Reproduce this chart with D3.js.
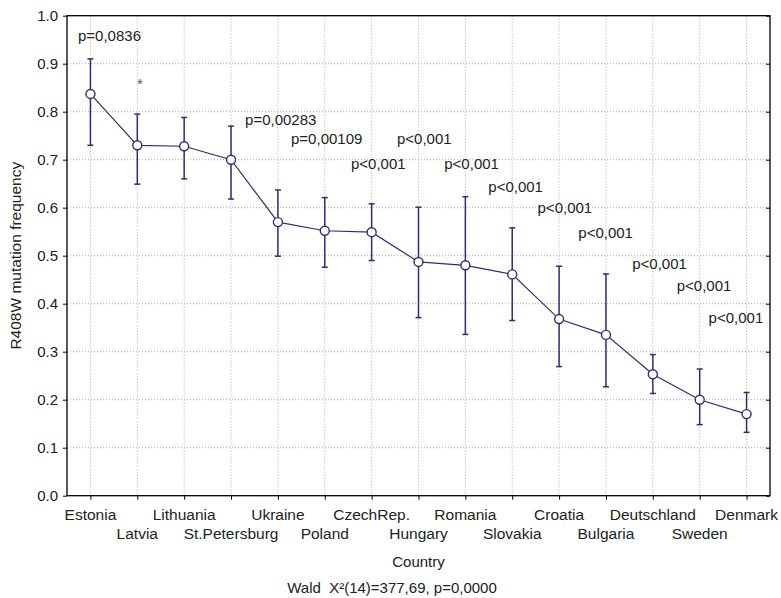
<!DOCTYPE html>
<html>
<head>
<meta charset="utf-8">
<script src="https://cdn.jsdelivr.net/npm/d3@7"></script>
<style>
  html, body { margin: 0; padding: 0; background: #fff; }
  svg { display: block; font-family: "Liberation Sans", Arial, sans-serif; }
</style>
</head>
<body>
<svg id="chart" width="781" height="598"></svg>
<script>
// ---- data ----
const categories = ["Estonia","Latvia","Lithuania","St.Petersburg","Ukraine","Poland","CzechRep.","Hungary","Romania","Slovakia","Croatia","Bulgaria","Deutschland","Sweden","Denmark"];
const means = [0.837, 0.730, 0.728, 0.700, 0.570, 0.552, 0.549, 0.487, 0.480, 0.461, 0.368, 0.335, 0.253, 0.200, 0.170];
const upper = [0.910, 0.795, 0.788, 0.770, 0.637, 0.621, 0.608, 0.601, 0.623, 0.558, 0.478, 0.462, 0.294, 0.264, 0.215];
const lower = [0.730, 0.649, 0.660, 0.618, 0.499, 0.476, 0.490, 0.371, 0.336, 0.365, 0.269, 0.227, 0.213, 0.148, 0.132];
const yTicks = [0.0, 0.1, 0.2, 0.3, 0.4, 0.5, 0.6, 0.7, 0.8, 0.9, 1.0];
// annotations: text, anchor along category index, level in data units
const annotText  = ["p=0,0836", "*", "p=0,00283", "p=0,00109", "p<0,001", "p<0,001", "p<0,001", "p<0,001", "p<0,001", "p<0,001", "p<0,001", "p<0,001", "p<0,001"];
const annotIndex = [-0.265, 0.995, 3.30, 4.28, 5.56, 6.54, 7.55, 8.49, 9.54, 10.41, 11.56, 12.51, 13.19];
const annotLevel = [0.948, 0.847, 0.772, 0.732, 0.681, 0.732, 0.681, 0.633, 0.588, 0.536, 0.472, 0.426, 0.359];
const xTitle = "Country";
const yTitle = "R408W mutation frequency";
const footnote = "Wald  X\u00B2(14)=377,69, p=0,0000";

// ---- layout ----
const svg = d3.select("#chart");
const L = 67, R = 770, T = 15.7, B = 495.7;
const navy = "#2a2f7c";
const textCol = "#222";

const x = d3.scalePoint().domain(categories).range([L, R]).padding(0.5);
const xi = d3.scaleLinear().domain([0, categories.length - 1]).range([x(categories[0]), x(categories[categories.length - 1])]);
const y = d3.scaleLinear().domain([0, 1]).range([B, T]);

// grid
const grid = svg.append("g");
grid.selectAll("line.h").data(yTicks.slice(1, -1)).join("line")
  .attr("x1", L).attr("x2", R).attr("y1", d => y(d)).attr("y2", d => y(d))
  .attr("stroke", "#aaa").attr("stroke-width", 1).attr("stroke-dasharray", "1,2");
grid.selectAll("line.v").data(categories).join("line")
  .attr("x1", d => x(d)).attr("x2", d => x(d)).attr("y1", T).attr("y2", B)
  .attr("stroke", "#aaa").attr("stroke-width", 1).attr("stroke-dasharray", "1,2");

// axes
const yAxis = d3.axisLeft(y).tickValues(yTicks).tickFormat(d3.format(".1f")).tickSize(4).tickPadding(5);
const gy = svg.append("g").attr("transform", `translate(${L},0)`).call(yAxis);
gy.select(".domain").remove();
gy.selectAll("line").attr("stroke", "#000");
gy.selectAll("text").attr("font-size", 15).attr("fill", textCol).attr("font-family", "Liberation Sans, Arial, sans-serif");

const yAxisR = d3.axisLeft(y).tickValues(yTicks).tickSize(4).tickFormat("");
const gyr = svg.append("g").attr("transform", `translate(${R},0)`).call(yAxisR);
gyr.select(".domain").remove();
gyr.selectAll("line").attr("stroke", "#000");

const xAxis = d3.axisBottom(x).tickSize(4).tickFormat("");
const gx = svg.append("g").attr("transform", `translate(0,${B})`).call(xAxis);
gx.select(".domain").remove();
gx.selectAll("line").attr("stroke", "#000");

// frame
svg.append("rect").attr("x", L).attr("y", T).attr("width", R - L).attr("height", B - T)
  .attr("fill", "none").attr("stroke", "#000").attr("stroke-width", 1.3);

// category labels (staggered)
svg.append("g").selectAll("text").data(categories).join("text")
  .attr("x", d => x(d))
  .attr("y", (d, i) => i % 2 === 0 ? 520 : 538.5)
  .attr("text-anchor", "middle").attr("font-size", 15.5).attr("fill", textCol)
  .text(d => d);

// titles
svg.append("text").attr("x", (L + R) / 2).attr("y", 567).attr("text-anchor", "middle")
  .attr("font-size", 15).attr("fill", textCol).text(xTitle);
svg.append("text").attr("x", 392).attr("y", 593).attr("text-anchor", "middle")
  .attr("font-size", 15).attr("fill", textCol).style("white-space", "pre").text(footnote);
svg.append("text").attr("transform", `translate(21,${(T + B) / 2}) rotate(-90)`)
  .attr("text-anchor", "middle").attr("font-size", 15.5).attr("fill", textCol).text(yTitle);

// error bars
const eb = svg.append("g").attr("stroke", navy).attr("stroke-width", 1.5);
categories.forEach((c, i) => {
  eb.append("line").attr("x1", x(c)).attr("x2", x(c)).attr("y1", y(upper[i])).attr("y2", y(lower[i]));
  eb.append("line").attr("x1", x(c) - 3).attr("x2", x(c) + 3).attr("y1", y(upper[i])).attr("y2", y(upper[i]));
  eb.append("line").attr("x1", x(c) - 3).attr("x2", x(c) + 3).attr("y1", y(lower[i])).attr("y2", y(lower[i]));
});

// mean line
const pts = categories.map((c, i) => [x(c), y(means[i])]);
svg.append("path").attr("d", d3.line()(pts)).attr("fill", "none").attr("stroke", navy).attr("stroke-width", 1.2);
svg.append("g").selectAll("circle").data(pts).join("circle")
  .attr("cx", d => d[0]).attr("cy", d => d[1]).attr("r", 4.5)
  .attr("fill", "#fff").attr("stroke", navy).attr("stroke-width", 1.4);

// annotations
svg.append("g").selectAll("text").data(annotText).join("text")
  .attr("x", (d, i) => xi(annotIndex[i]))
  .attr("y", (d, i) => y(annotLevel[i]))
  .attr("font-size", 15)
  .attr("fill", (d) => d === "*" ? "#555" : textCol)
  .text(d => d);
</script>
</body>
</html>
